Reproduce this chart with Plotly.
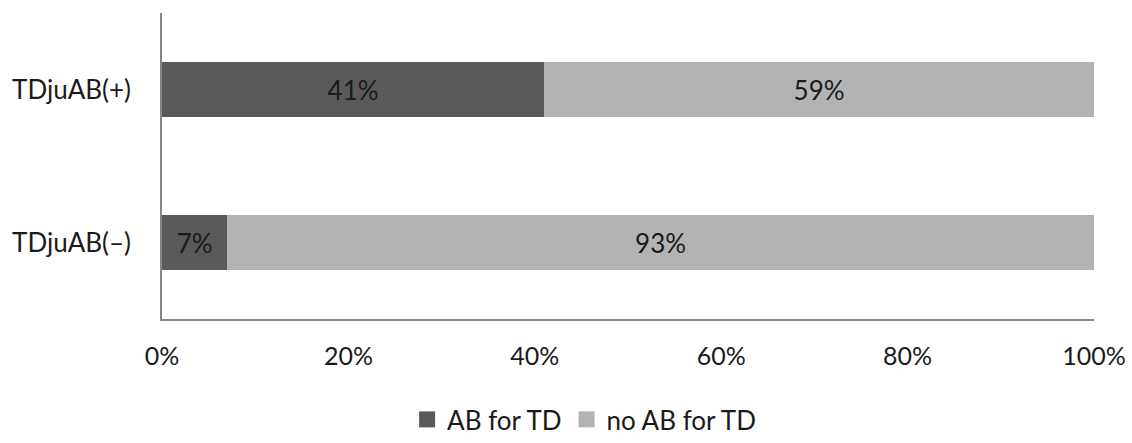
import plotly.graph_objects as go

categories = ["TDjuAB(\u2013)", "TDjuAB(+)"]
ab_for_td = [0.07, 0.41]
no_ab_for_td = [0.93, 0.59]
series_names = ["AB for TD", "no AB for TD"]
series_colors = ["#5a5a5a", "#b3b3b3"]
tick_vals = [0, 0.2, 0.4, 0.6, 0.8, 1.0]
tick_text = ["0%", "20%", "40%", "60%", "80%", "100%"]

FONT = "Lato, Open Sans, sans-serif"
TXT = "#1a1a1a"

fig = go.Figure()
for vals, name, col in zip([ab_for_td, no_ab_for_td], series_names, series_colors):
    fig.add_trace(go.Bar(
        y=categories, x=vals, orientation="h", name=name, showlegend=False,
        legendgroup=name,
        marker=dict(color=col, line=dict(width=0)),
        texttemplate="%{x:.0%}", textposition="inside", insidetextanchor="middle",
        textfont=dict(size=26, color=TXT, family=FONT),
    ))
# legend proxies (square swatches like the original)
for name, col in zip(series_names, series_colors):
    fig.add_trace(go.Scatter(
        x=[None], y=[None], mode="markers", name=name, legendgroup=name,
        marker=dict(symbol="square", size=16, color=col, line=dict(width=0)),
        showlegend=True,
    ))

fig.update_layout(
    barmode="stack",
    bargap=0.64,
    width=1132, height=443,
    margin=dict(l=162, r=38, t=13, b=124, autoexpand=False),
    paper_bgcolor="white", plot_bgcolor="white",
    font=dict(family=FONT, size=26, color=TXT),
    uniformtext=dict(mode="show", minsize=10),
    legend=dict(
        orientation="h", xref="container", yref="container",
        x=0.516, xanchor="center", y=0.0, yanchor="bottom",
        font=dict(size=26, family=FONT, color=TXT),
        itemwidth=30, traceorder="normal", tracegroupgap=0,
    ),
    showlegend=True,
)
fig.update_xaxes(
    range=[0, 1], tickvals=tick_vals, ticktext=tick_text, automargin=False,
    showgrid=False, zeroline=False, showline=True, linecolor="#868686", linewidth=1.5,
    ticks="", ticklabelstandoff=14, tickfont=dict(size=25),
)
fig.update_yaxes(
    showgrid=False, zeroline=False, showline=True, linecolor="#868686", linewidth=1.5,
    ticks="", ticklabelstandoff=24, tickfont=dict(size=26), automargin=False,
)

fig.write_html("out.html")
